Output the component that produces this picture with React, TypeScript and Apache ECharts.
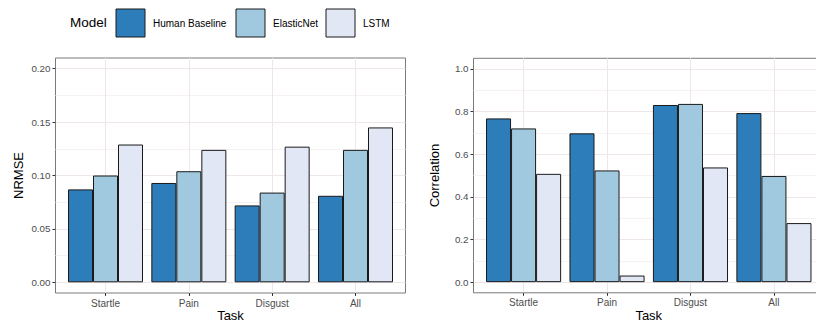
import { useEffect, useRef } from "react";
import * as echarts from "echarts";

const tasks = ["Startle", "Pain", "Disgust", "All"];
const taskPositions = [0, 1, 2, 3];
const models = ["Human Baseline", "ElasticNet", "LSTM"];
const nrmseHuman = [0.087, 0.093, 0.072, 0.081];
const nrmseElastic = [0.1, 0.104, 0.084, 0.124];
const nrmseLstm = [0.129, 0.124, 0.127, 0.145];
const corrHuman = [0.768, 0.698, 0.831, 0.793];
const corrElastic = [0.721, 0.524, 0.836, 0.498];
const corrLstm = [0.508, 0.031, 0.538, 0.277];
const nrmseTicks = [0, 0.05, 0.1, 0.15, 0.2];
const nrmseMinor = [0.025, 0.075, 0.125, 0.175];
const corrTicks = [0, 0.2, 0.4, 0.6, 0.8, 1.0];
const corrMinor = [0.1, 0.3, 0.5, 0.7, 0.9];

const colors = ["#2D7DBB", "#A0C9DF", "#E1E7F5"];
const FONT = "'Liberation Sans', Arial, Helvetica, sans-serif";
const GRID_COLOR = "#EEE6E9";
const MINOR_COLOR = "#F6F1F3";

export default function App() {
  const ref = useRef<HTMLDivElement>(null);
  useEffect(() => {
    if (!ref.current) return;
    const chart = echarts.init(ref.current, null, { renderer: "svg" });

    const xAxisFor = (gridIndex: number) => ({
      type: "value",
      gridIndex,
      min: -0.6,
      max: 3.6,
      axisLine: { show: false, onZero: false },
      axisTick: { show: true, customValues: taskPositions, length: 3, lineStyle: { color: "#333", width: 1 } },
      axisLabel: {
        customValues: taskPositions,
        formatter: (v: number) => tasks[Math.round(v)] ?? "",
        fontSize: 10,
        color: "#4D4D4D",
        fontFamily: FONT,
        margin: 5,
      },
      splitLine: { show: true, customValues: taskPositions, lineStyle: { color: GRID_COLOR, width: 1 } },
      name: "Task",
      nameLocation: "middle",
      nameGap: 16,
      nameMoveOverlap: false,
      nameTextStyle: { fontSize: 13, color: "#000", fontFamily: FONT, verticalAlign: "top" },
    });

    const yAxisMajor = (gridIndex: number, min: number, max: number, ticks: number[], digits: number, name: string, nameGap: number) => ({
      type: "value",
      gridIndex,
      min,
      max,
      axisLine: { show: false, onZero: false },
      axisTick: { show: true, customValues: ticks, length: 3, lineStyle: { color: "#333", width: 1 } },
      axisLabel: {
        customValues: ticks,
        formatter: (v: number) => v.toFixed(digits),
        fontSize: 9.8,
        color: "#4D4D4D",
        fontFamily: FONT,
        margin: 5,
      },
      splitLine: { show: true, customValues: ticks, lineStyle: { color: GRID_COLOR, width: 1 } },
      name,
      nameLocation: "middle",
      nameGap,
      nameRotate: 90,
      nameMoveOverlap: false,
      nameTextStyle: { fontSize: 13, color: "#000", fontFamily: FONT },
    });

    const yAxisMinor = (gridIndex: number, min: number, max: number, ticks: number[]) => ({
      type: "value",
      gridIndex,
      min,
      max,
      axisLine: { show: false, onZero: false },
      axisTick: { show: false, customValues: ticks },
      axisLabel: { show: false, customValues: ticks },
      splitLine: { show: true, customValues: ticks, lineStyle: { color: MINOR_COLOR, width: 1 } },
    });

    const barSeries = (name: string, values: number[], color: string, xAxisIndex: number, yAxisIndex: number) => ({
      type: "bar",
      name,
      xAxisIndex,
      yAxisIndex,
      data: values.map((v, i) => [taskPositions[i], v]),
      barGap: "0%",
      barCategoryGap: "10%",
      itemStyle: { color, borderColor: "#1A1A1A", borderWidth: 1 },
    });

    const legendAt = (name: string, left: number) => ({
      data: [name],
      left,
      top: 8.5,
      icon: "rect",
      itemWidth: 29,
      itemHeight: 28,
      padding: 0,
      selectedMode: false,
      itemStyle: { borderColor: "#1A1A1A", borderWidth: 1 },
      textStyle: { fontSize: 10, color: "#000", fontFamily: FONT, padding: [0, 0, 0, 3] },
    });

    chart.setOption({
      animation: false,
      backgroundColor: "#fff",
      grid: [
        { left: 55.5, top: 58, width: 350, height: 235, show: true, borderColor: "#7A7A7A", borderWidth: 1, backgroundColor: "transparent", outerBoundsMode: "none", containLabel: false },
        { left: 473.5, top: 58.3, width: 350.5, height: 234.5, show: true, borderColor: "#7A7A7A", borderWidth: 1, backgroundColor: "transparent", outerBoundsMode: "none", containLabel: false },
      ],
      xAxis: [xAxisFor(0), xAxisFor(1)],
      yAxis: [
        yAxisMajor(0, -0.01, 0.21, nrmseTicks, 2, "NRMSE", 31),
        yAxisMinor(0, -0.01, 0.21, nrmseMinor),
        yAxisMajor(1, -0.05, 1.05, corrTicks, 1, "Correlation", 33),
        yAxisMinor(1, -0.05, 1.05, corrMinor),
      ],
      legend: [legendAt(models[0], 115.5), legendAt(models[1], 235.5), legendAt(models[2], 325.5)],
      graphic: [
        { type: "text", x: 70, y: 22.5, style: { text: "Model", fontSize: 13.5, fontFamily: FONT, fill: "#000", verticalAlign: "middle" } },
      ],
      series: [
        barSeries(models[0], nrmseHuman, colors[0], 0, 0),
        barSeries(models[1], nrmseElastic, colors[1], 0, 0),
        barSeries(models[2], nrmseLstm, colors[2], 0, 0),
        barSeries(models[0], corrHuman, colors[0], 1, 2),
        barSeries(models[1], corrElastic, colors[1], 1, 2),
        barSeries(models[2], corrLstm, colors[2], 1, 2),
      ],
    });
    return () => chart.dispose();
  }, []);
  return <div ref={ref} style={{ position: "fixed", left: 0, top: 0, width: 816, height: 322 }} />;
}
